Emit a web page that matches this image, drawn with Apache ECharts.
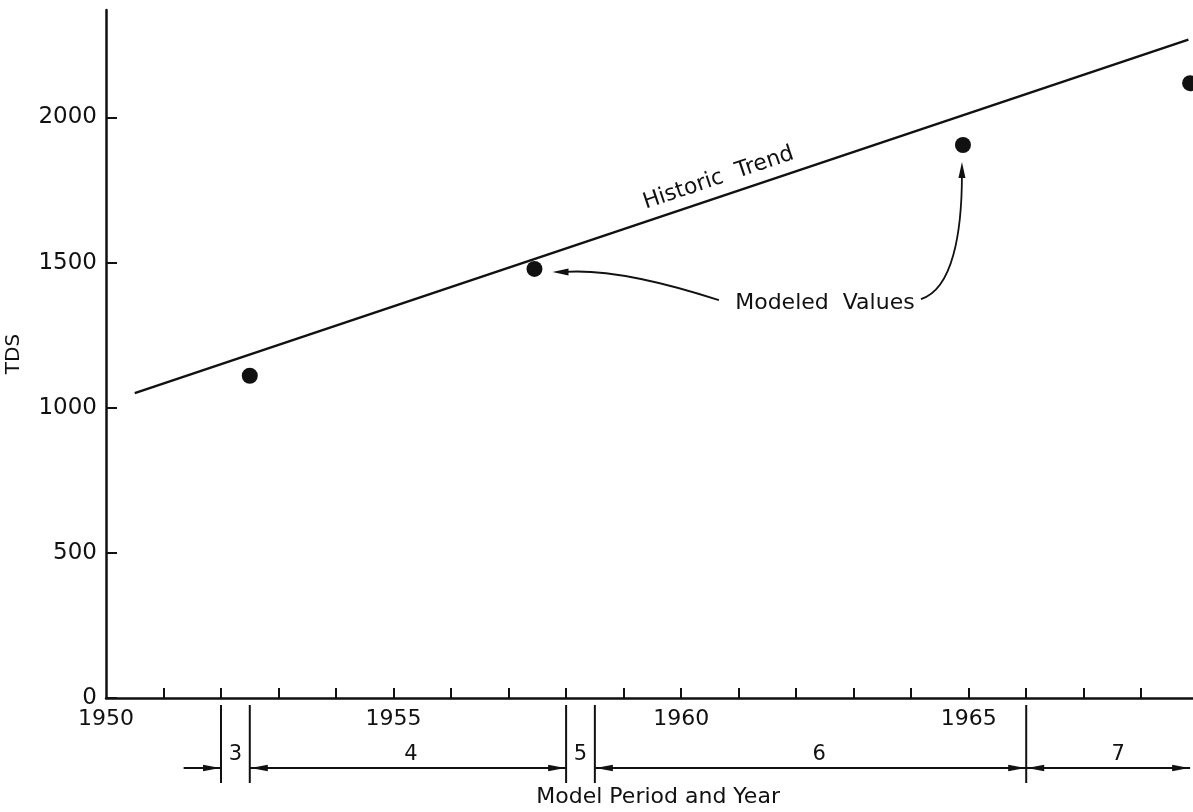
<!DOCTYPE html>
<html><head><meta charset="utf-8">
<script src="https://cdn.jsdelivr.net/npm/echarts@6/dist/echarts.min.js"></script>
<style>html,body{margin:0;padding:0;background:#fff}#c{width:1193px;height:812px}</style>
</head><body><div id="c"></div>
<script>
// ---- data ----
const modeledYears = [1952.5, 1957.45, 1964.9, 1968.85];
const modeledTDS = [1110, 1478, 1905, 2118];
const trendYears = [1950.5, 1968.82];
const trendTDS = [1050, 2268];
const yTickValues = [0, 500, 1000, 1500, 2000];
const xLabelYears = [1950, 1955, 1960, 1965];
const xTickYears = [1951,1952,1953,1954,1955,1956,1957,1958,1959,1960,1961,1962,1963,1964,1965,1966,1967,1968];
const periodBounds = [1952, 1952.5, 1958, 1958.5, 1966];
const periodNames = ['3', '4', '5', '6', '7'];
const periodLabelYears = [1952.25, 1955.3, 1958.25, 1962.4, 1967.6];
// arrows: [fromYear, toYear, headAtStart, headAtEnd]
const periodArrows = [[1951.35, 1952, false, true], [1952.5, 1958, true, true], [1958.5, 1966, true, true], [1966, 1968.85, true, true]];

const FONT = '"DejaVu Sans", sans-serif';
const INK = '#111';
const chart = echarts.init(document.getElementById('c'), null, {renderer: 'canvas'});

chart.setOption({
  animation: false,
  backgroundColor: '#fff',
  grid: {left: 106, top: 10, right: 0, bottom: 114, containLabel: false, outerBoundsMode: 'none'},
  xAxis: {
    type: 'value', min: 1950, max: 1968.9,
    axisLine: {show: true, lineStyle: {color: INK, width: 2.5}},
    axisTick: {show: true, inside: true, length: 10, lineStyle: {color: INK, width: 2}, customValues: xTickYears},
    axisLabel: {show: true, margin: 10, fontFamily: FONT, fontSize: 22, color: INK, customValues: xLabelYears, formatter: v => String(v)},
    splitLine: {show: false}
  },
  yAxis: {
    type: 'value', min: 0, max: 2370,
    name: 'TDS', nameLocation: 'middle', nameGap: 82, nameRotate: 90,
    nameTextStyle: {fontFamily: FONT, fontSize: 20, color: INK},
    axisLine: {show: true, lineStyle: {color: INK, width: 2.5}},
    axisTick: {show: true, inside: true, length: 11, lineStyle: {color: INK, width: 2}, customValues: yTickValues},
    axisLabel: {show: true, margin: 9, fontFamily: FONT, fontSize: 23, color: INK, customValues: yTickValues, formatter: v => String(v)},
    splitLine: {show: false}
  },
  series: [
    {type: 'line', data: trendYears.map((y, i) => [y, trendTDS[i]]), symbol: 'none', lineStyle: {color: INK, width: 2.5}, z: 2},
    {type: 'scatter', data: modeledYears.map((y, i) => [y, modeledTDS[i]]), symbol: 'circle', symbolSize: 16, itemStyle: {color: INK, opacity: 1}, z: 3}
  ]
});

function px(x, y) { return chart.convertToPixel({gridIndex: 0}, [x, y]); }
function head(tip, dir, L, W) {
  const n = Math.hypot(dir[0], dir[1]); const ux = dir[0] / n, uy = dir[1] / n;
  const bx = tip[0] - ux * L, by = tip[1] - uy * L;
  return {type: 'polygon', shape: {points: [tip, [bx - uy * W, by + ux * W], [bx + uy * W, by - ux * W]]}, style: {fill: INK}, z: 10};
}

const g = [];
const axisY = px(1950, 0)[1];
periodBounds.forEach(b => {
  const x = px(b, 0)[0];
  g.push({type: 'line', shape: {x1: x, y1: axisY + 7, x2: x, y2: axisY + 85}, style: {stroke: INK, lineWidth: 2}, z: 10});
});
const ay = axisY + 70;
periodArrows.forEach(a => {
  const x1 = px(a[0], 0)[0], x2 = px(a[1], 0)[0];
  g.push({type: 'line', shape: {x1: x1, y1: ay, x2: x2, y2: ay}, style: {stroke: INK, lineWidth: 1.8}, z: 10});
  if (a[2]) g.push(head([x1 + 1, ay], [-1, 0], 17, 3.2));
  if (a[3]) g.push(head([x2 - 1, ay], [1, 0], 17, 3.2));
});
periodNames.forEach((n, i) => {
  const x = px(periodLabelYears[i], 0)[0];
  g.push({type: 'text', x: x, y: axisY + 57, style: {text: n, font: '21px ' + FONT, fill: INK, textAlign: 'center', textVerticalAlign: 'middle'}, z: 10});
});
g.push({type: 'text', x: px(1959.6, 0)[0], y: axisY + 99, style: {text: 'Model Period and Year', font: '22px ' + FONT, fill: INK, textAlign: 'center', textVerticalAlign: 'middle'}, z: 10});

const t0 = px(trendYears[0], trendTDS[0]), t1 = px(trendYears[1], trendTDS[1]);
const ang = Math.atan2(t0[1] - t1[1], t1[0] - t0[0]);
const labYear = 1960.75;
const labVal = trendTDS[0] + (trendTDS[1] - trendTDS[0]) * (labYear - trendYears[0]) / (trendYears[1] - trendYears[0]);
const lp = px(labYear, labVal);
g.push({type: 'text', x: lp[0] - Math.sin(ang) * 7, y: lp[1] - Math.cos(ang) * 7, rotation: ang, style: {text: 'Historic  Trend', font: '22px ' + FONT, fill: INK, textAlign: 'center', textVerticalAlign: 'bottom'}, z: 10});

const mv = px(1962.5, 1360);
g.push({type: 'text', x: mv[0], y: mv[1], style: {text: 'Modeled  Values', font: '22px ' + FONT, fill: INK, textAlign: 'center', textVerticalAlign: 'middle'}, z: 10});
const d2 = px(modeledYears[1], modeledTDS[1]);
const d3 = px(modeledYears[2], modeledTDS[2]);
const s1 = [mv[0] - 106, mv[1] - 3], e1 = [d2[0] + 18, d2[1] + 3], c1 = [d2[0] + 85, d2[1] - 1];
g.push({type: 'bezierCurve', shape: {x1: s1[0], y1: s1[1], x2: e1[0] + 12, y2: e1[1], cpx1: c1[0], cpy1: c1[1]}, style: {stroke: INK, lineWidth: 1.8, fill: null}, z: 10});
g.push(head(e1, [-1, 0], 16, 3.5));
const s2 = [mv[0] + 96, mv[1] - 4], e2 = [d3[0] - 1, d3[1] + 17];
g.push({type: 'bezierCurve', shape: {x1: s2[0], y1: s2[1], x2: e2[0], y2: e2[1] + 12, cpx1: s2[0] + 32, cpy1: s2[1] - 10, cpx2: e2[0], cpy2: e2[1] + 70}, style: {stroke: INK, lineWidth: 1.8, fill: null}, z: 10});
g.push(head(e2, [0, -1], 16, 3.5));

chart.setOption({graphic: g});
</script>
</body></html>
